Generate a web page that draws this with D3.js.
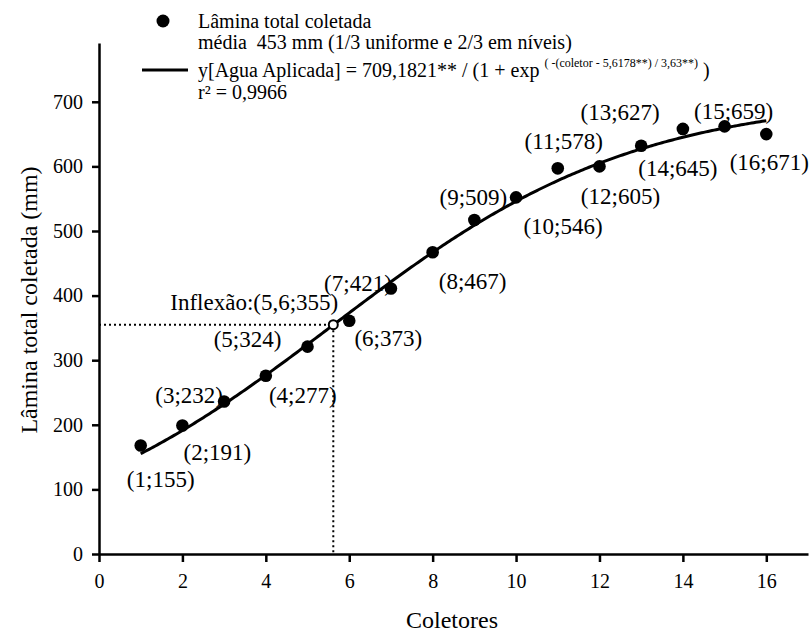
<!DOCTYPE html>
<html><head><meta charset="utf-8">
<script src="https://cdn.jsdelivr.net/npm/d3@7/dist/d3.min.js"></script>
<style>body{margin:0;background:#fff}svg{display:block}text{font-family:"Liberation Serif","Times New Roman",Times,"DejaVu Serif",serif !important;fill:#000}</style>
</head><body><svg id="c" width="812" height="635"></svg>
<script>
const coletores = [1,2,3,4,5,6,7,8,9,10,11,12,13,14,15,16];
const laminaColetada = [168,199,236,276,321,361,411,467,517,552,597,600,632,658,662,650];
const labelTexts = ["(1;155)","(2;191)","(3;232)","(4;277)","(5;324)","(6;373)","(7;421)","(8;467)","(9;509)","(10;546)","(11;578)","(12;605)","(13;627)","(14;645)","(15;659)","(16;671)"];
const xTicks = [0,2,4,6,8,10,12,14,16];
const yTicks = [0,100,200,300,400,500,600,700];
const fitA = 709.1821, fitX0 = 5.6178, fitB = 3.63;
const inflexao = {x: 5.6178, y: 355, label: "Inflexão:(5,6;355)"};
// layout: label offsets (px) from each point
const labelOffsets = [[20,34],[35,27],[-35,-6],[37,20],[-60,-7],[39,18],[-33,-5],[40,29],[-1,-23],[47,29],[6,-27],[21,30],[-21,-33],[-5,40],[9,-15],[3,28]];

const FONT = '"Liberation Serif","Times New Roman",Times,"DejaVu Serif",serif';
const svg = d3.select("#c");
const x = d3.scaleLinear().domain([0,17]).range([99,808]);
const y = d3.scaleLinear().domain([0,791]).range([554,43]);

// axes
const xAxis = svg.append("g").attr("transform",`translate(0,${y(0)})`)
  .call(d3.axisBottom(x).tickValues(xTicks).tickSize(8).tickPadding(12).tickSizeOuter(0));
const yAxis = svg.append("g").attr("transform",`translate(${x(0)},0)`)
  .call(d3.axisLeft(y).tickValues(yTicks).tickSize(7).tickPadding(9).tickSizeOuter(0));
[xAxis,yAxis].forEach(g=>{
  g.attr("font-family",FONT);
  g.select(".domain").attr("stroke","#000").attr("stroke-width",2.5);
  g.selectAll(".tick line").attr("stroke","#000").attr("stroke-width",2.5);
  g.selectAll(".tick text").attr("font-family",FONT).style("font-size","20px").attr("fill","#000");
});

// axis titles
svg.append("text").attr("x",452).attr("y",628).attr("text-anchor","middle").style("font-size","24px").text("Coletores");
svg.append("text").attr("transform","translate(37,300) rotate(-90)").attr("text-anchor","middle").style("font-size","24px").text("Lâmina total coletada (mm)");

// inflection dotted lines
svg.append("path").attr("d",`M${x(0)},${y(inflexao.y)}H${x(inflexao.x)}V${y(0)}`)
  .attr("fill","none").attr("stroke","#000").attr("stroke-width",2).attr("stroke-dasharray","2,3");

// fitted curve
const curveX = d3.range(1,16.0001,0.05);
const fit = t => fitA/(1+Math.exp(-(t-fitX0)/fitB));
svg.append("path").datum(curveX)
  .attr("d", d3.line().x(d=>x(d)).y(d=>y(fit(d))))
  .attr("fill","none").attr("stroke","#000").attr("stroke-width",3);

// points
svg.append("g").selectAll("circle").data(coletores).join("circle")
  .attr("cx",d=>x(d)).attr("cy",(d,i)=>y(laminaColetada[i])).attr("r",6.3).attr("fill","#000");

// inflection marker
svg.append("circle").attr("cx",x(inflexao.x)).attr("cy",y(inflexao.y)).attr("r",4.5)
  .attr("fill","#fff").attr("stroke","#000").attr("stroke-width",2);
svg.append("text").attr("x",x(inflexao.x)+5).attr("y",y(inflexao.y)-15).attr("text-anchor","end")
  .style("font-size","23px").text(inflexao.label);

// point labels
svg.append("g").selectAll("text").data(coletores).join("text")
  .attr("x",(d,i)=>x(d)+labelOffsets[i][0]).attr("y",(d,i)=>y(laminaColetada[i])+labelOffsets[i][1])
  .attr("text-anchor","middle").attr("dominant-baseline","central").style("font-size","23px")
  .text((d,i)=>labelTexts[i]);

// legend
const lg = svg.append("g");
lg.append("circle").attr("cx",163).attr("cy",21).attr("r",6.5).attr("fill","#000");
lg.append("text").attr("x",198).attr("y",28).style("font-size","20px").text("Lâmina total coletada");
lg.append("text").attr("x",198).attr("y",49).style("font-size","20px").text("média\u00A0 453 mm (1/3 uniforme e 2/3 em níveis)");
lg.append("line").attr("x1",142).attr("x2",188).attr("y1",70).attr("y2",70).attr("stroke","#000").attr("stroke-width",3);
const eq = lg.append("text").attr("x",198).attr("y",77).style("font-size","20px");
eq.append("tspan").text("y[Agua Aplicada] = 709,1821** / (1 + exp\u00A0");
eq.append("tspan").attr("dy",-10).style("font-size","12px").text("( -(coletor - 5,6178**) / 3,63**)");
eq.append("tspan").attr("dy",10).text("\u00A0)");
lg.append("text").attr("x",198).attr("y",99).style("font-size","20px").text("r² = 0,9966");
</script></body></html>
